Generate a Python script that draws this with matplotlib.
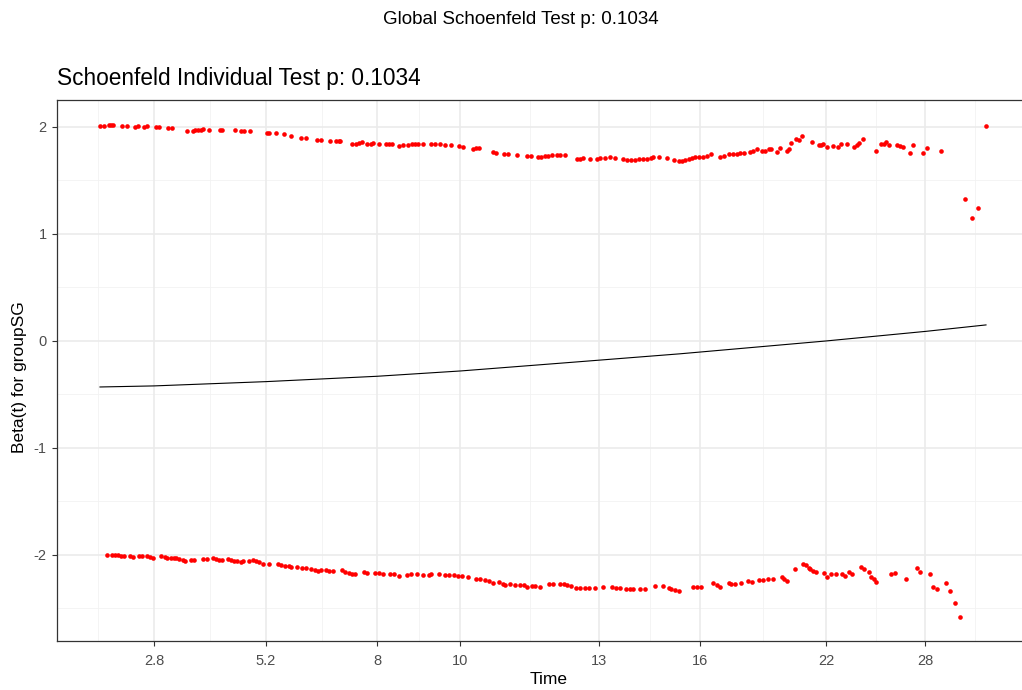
import matplotlib.pyplot as plt
import numpy as np

# x is the km-transformed time scale, y is the scaled Schoenfeld residual
upper_x = [0.021, 0.025, 0.030, 0.032, 0.034, 0.043, 0.048, 0.056, 0.059, 0.065, 0.068, 0.077, 0.080, 0.089, 0.093,
           0.108, 0.114, 0.116, 0.119, 0.122, 0.124, 0.130, 0.141, 0.143, 0.156, 0.162, 0.165, 0.171, 0.188, 0.190,
           0.197, 0.205, 0.212, 0.222, 0.227, 0.238, 0.242, 0.251, 0.257, 0.260, 0.261, 0.273, 0.277, 0.280, 0.283,
           0.288, 0.292, 0.294, 0.300, 0.307, 0.310, 0.313, 0.320,
           0.324, 0.329, 0.333, 0.336, 0.339, 0.344, 0.352, 0.356, 0.361, 0.366, 0.372, 0.380, 0.384, 0.394, 0.397,
           0.400, 0.414, 0.417, 0.425, 0.429, 0.438, 0.448, 0.452, 0.459, 0.462, 0.466, 0.469, 0.473, 0.478, 0.481,
           0.486, 0.498, 0.501, 0.504, 0.511, 0.518, 0.521, 0.526, 0.531, 0.536, 0.544, 0.548, 0.552, 0.556, 0.560,
           0.564, 0.568, 0.572, 0.574, 0.580, 0.588, 0.595, 0.600, 0.603, 0.606, 0.610, 0.613, 0.616, 0.620, 0.624,
           0.628, 0.632, 0.641, 0.645, 0.650,
           0.654, 0.658, 0.661, 0.665, 0.671, 0.674, 0.678, 0.683, 0.686, 0.690, 0.692, 0.698, 0.701, 0.708, 0.710,
           0.712, 0.717, 0.720, 0.723, 0.733, 0.740, 0.742, 0.744, 0.748, 0.754, 0.759, 0.762, 0.768, 0.775, 0.778,
           0.780, 0.784, 0.797, 0.802, 0.805, 0.807, 0.810, 0.818, 0.821, 0.824, 0.831, 0.834, 0.844, 0.848, 0.862,
           0.886, 0.893, 0.899, 0.907]
upper_y = [2.01, 2.01, 2.02, 2.02, 2.02, 2.01, 2.01, 2.00, 2.01, 2.00, 2.01, 2.00, 2.00, 1.99, 1.99,
           1.96, 1.96, 1.97, 1.97, 1.97, 1.98, 1.97, 1.97, 1.97, 1.97, 1.96, 1.96, 1.96, 1.94, 1.94,
           1.94, 1.93, 1.92, 1.90, 1.90, 1.88, 1.88, 1.87, 1.87, 1.87, 1.87, 1.84, 1.84, 1.85, 1.86,
           1.84, 1.84, 1.85, 1.84, 1.84, 1.84, 1.84, 1.82,
           1.83, 1.83, 1.84, 1.84, 1.84, 1.84, 1.84, 1.84, 1.84, 1.83, 1.83, 1.82, 1.81, 1.79, 1.80,
           1.80, 1.77, 1.76, 1.75, 1.75, 1.74, 1.73, 1.73, 1.72, 1.72, 1.73, 1.73, 1.74, 1.74, 1.74,
           1.74, 1.70, 1.70, 1.71, 1.70, 1.70, 1.71, 1.71, 1.72, 1.71, 1.70, 1.69, 1.69, 1.69, 1.70,
           1.70, 1.70, 1.71, 1.72, 1.72, 1.71, 1.69, 1.68, 1.68, 1.69, 1.70, 1.71, 1.72, 1.72, 1.72,
           1.73, 1.75, 1.72, 1.73, 1.75,
           1.75, 1.75, 1.76, 1.76, 1.77, 1.78, 1.79, 1.78, 1.78, 1.79, 1.79, 1.77, 1.80, 1.78, 1.79,
           1.85, 1.89, 1.88, 1.92, 1.86, 1.83, 1.83, 1.84, 1.81, 1.82, 1.81, 1.84, 1.84, 1.81, 1.83,
           1.85, 1.89, 1.78, 1.84, 1.84, 1.86, 1.83, 1.83, 1.82, 1.81, 1.76, 1.83, 1.76, 1.80, 1.78,
           1.33, 1.15, 1.24, 2.01]

lower_x = [0.028, 0.033, 0.036, 0.039, 0.042, 0.045, 0.051, 0.054, 0.060, 0.063, 0.068, 0.071, 0.074, 0.082, 0.086,
           0.088, 0.092, 0.095, 0.097, 0.100, 0.104, 0.106, 0.112, 0.115, 0.124, 0.128, 0.134, 0.137, 0.140, 0.143,
           0.149, 0.152, 0.155, 0.158, 0.162, 0.164, 0.170, 0.174, 0.177, 0.180, 0.184, 0.190, 0.199, 0.202, 0.206,
           0.210, 0.212, 0.218, 0.223, 0.227, 0.232, 0.236, 0.239, 0.242, 0.247, 0.250, 0.254, 0.263, 0.266, 0.270,
           0.273, 0.276, 0.285, 0.288, 0.296, 0.300, 0.304, 0.311, 0.315, 0.320,
           0.328, 0.332, 0.338, 0.344, 0.350, 0.352, 0.360, 0.366, 0.370, 0.375, 0.379, 0.383, 0.389, 0.397, 0.401,
           0.406, 0.410, 0.414, 0.420, 0.424, 0.426, 0.431, 0.436, 0.441, 0.445, 0.448, 0.453, 0.456, 0.461, 0.470,
           0.474, 0.481, 0.485, 0.488, 0.492, 0.497, 0.501, 0.506, 0.510, 0.516, 0.524, 0.533, 0.537, 0.541, 0.547,
           0.551, 0.554, 0.561, 0.566, 0.576, 0.584, 0.590, 0.592, 0.596, 0.600, 0.614, 0.618, 0.622, 0.634, 0.638,
           0.641, 0.650,
           0.652, 0.656, 0.662, 0.669, 0.673, 0.680, 0.684, 0.689, 0.694, 0.703, 0.705, 0.708, 0.716, 0.724, 0.727,
           0.730, 0.731, 0.734, 0.737, 0.745, 0.748, 0.752, 0.757, 0.763, 0.766, 0.770, 0.773, 0.782, 0.785, 0.790,
           0.792, 0.795, 0.797, 0.812, 0.816, 0.827, 0.838, 0.841, 0.851, 0.854, 0.858, 0.867, 0.871, 0.876, 0.881]
lower_y = [-2.00, -2.00, -2.00, -2.00, -2.01, -2.01, -2.01, -2.02, -2.01, -2.01, -2.01, -2.02, -2.03, -2.01, -2.02,
           -2.03, -2.03, -2.03, -2.03, -2.04, -2.05, -2.06, -2.05, -2.05, -2.04, -2.04, -2.03, -2.04, -2.05, -2.05,
           -2.04, -2.05, -2.06, -2.06, -2.07, -2.06, -2.06, -2.05, -2.06, -2.07, -2.08, -2.08, -2.08, -2.09, -2.10,
           -2.10, -2.11, -2.11, -2.12, -2.12, -2.13, -2.14, -2.15, -2.14, -2.14, -2.15, -2.15, -2.14, -2.16, -2.17,
           -2.18, -2.18, -2.16, -2.17, -2.17, -2.17, -2.18, -2.18, -2.18, -2.20,
           -2.19, -2.18, -2.18, -2.19, -2.19, -2.18, -2.18, -2.19, -2.19, -2.19, -2.20, -2.20, -2.21, -2.22, -2.22,
           -2.23, -2.24, -2.26, -2.25, -2.27, -2.28, -2.27, -2.28, -2.28, -2.28, -2.30, -2.29, -2.29, -2.30, -2.27,
           -2.27, -2.27, -2.27, -2.28, -2.29, -2.31, -2.31, -2.31, -2.31, -2.31, -2.30, -2.30, -2.31, -2.31, -2.32,
           -2.32, -2.32, -2.32, -2.32, -2.29, -2.29, -2.31, -2.32, -2.33, -2.34, -2.30, -2.30, -2.30, -2.26, -2.28,
           -2.30, -2.26,
           -2.27, -2.27, -2.26, -2.24, -2.25, -2.23, -2.23, -2.22, -2.22, -2.21, -2.22, -2.24, -2.13, -2.08, -2.09,
           -2.12, -2.13, -2.15, -2.16, -2.17, -2.21, -2.18, -2.18, -2.18, -2.20, -2.16, -2.18, -2.11, -2.13, -2.16,
           -2.21, -2.22, -2.25, -2.18, -2.17, -2.22, -2.12, -2.16, -2.18, -2.30, -2.32, -2.26, -2.34, -2.45, -2.58]

# fitted beta(t) curve
fit_x = [0.021, 0.075, 0.187, 0.298, 0.382, 0.492, 0.601, 0.747, 0.847, 0.907]
fit_y = [-0.43, -0.42, -0.38, -0.33, -0.28, -0.20, -0.12, 0.00, 0.09, 0.15]

time_ticks = [0.075, 0.187, 0.298, 0.381, 0.520, 0.621, 0.747, 0.846]
time_labels = ["2.8", "5.2", "8", "10", "13", "16", "22", "28"]
beta_ticks = [-2, -1, 0, 1, 2]

plt.rcParams['font.family'] = ['Liberation Sans', 'DejaVu Sans']
plt.rcParams['axes.unicode_minus'] = False

W, H = 1022, 690
fig = plt.figure(figsize=(W / 100, H / 100), dpi=100)
fig.patch.set_facecolor("white")
# panel runs a little past the right edge of the picture, like the original
ax = fig.add_axes([57 / W, 1 - 641 / H, (1030 - 57) / W, (641 - 100) / H])

ax.set_xlim(-0.022, 0.951)
ax.set_ylim(-2.804, 2.252)

# ggplot-style grid: majors and minor midpoints
ext = [2 * time_ticks[0] - time_ticks[1]] + time_ticks + [2 * time_ticks[-1] - time_ticks[-2]]
minor_x = [(a + b) / 2 for a, b in zip(ext[:-1], ext[1:])]
minor_y = [-2.5, -1.5, -0.5, 0.5, 1.5]
for v in minor_x:
    ax.axvline(v, color="#F2F2F2", lw=0.6, zorder=0)
for v in minor_y:
    ax.axhline(v, color="#F2F2F2", lw=0.6, zorder=0)
for v in time_ticks:
    ax.axvline(v, color="#EBEBEB", lw=1.2, zorder=0)
for v in beta_ticks:
    ax.axhline(v, color="#EBEBEB", lw=1.2, zorder=0)

ax.scatter(upper_x, upper_y, s=11, color="red", linewidths=0, zorder=3)
ax.scatter(lower_x, lower_y, s=11, color="red", linewidths=0, zorder=3)
ax.plot(fit_x, fit_y, color="black", lw=0.8, zorder=2)

ax.set_xticks(time_ticks)
ax.set_xticklabels(time_labels)
ax.set_yticks(beta_ticks)
ax.tick_params(axis="both", length=3.5, width=0.8, color="#333333",
               labelcolor="#4D4D4D", labelsize=10.5)
ax.tick_params(axis="x", pad=6)
ax.tick_params(axis="y", pad=4)
for s in ax.spines.values():
    s.set_color("#333333")
    s.set_linewidth(0.9)

fig.text(549 / W, 1 - 680 / H, "Time", fontsize=12.5, ha="center", va="center")
fig.text(20 / W, 1 - 377 / H, "Beta(t) for groupSG", rotation=90, fontsize=12.5,
         ha="center", va="center")

fig.text(57 / W, 1 - 79 / H, "Schoenfeld Individual Test p: 0.1034", fontsize=16.3,
         ha="left", va="center")
fig.text(521 / W, 1 - 20 / H, "Global Schoenfeld Test p: 0.1034", fontsize=13.5,
         ha="center", va="center")

fig.savefig("out.png", dpi=100)
